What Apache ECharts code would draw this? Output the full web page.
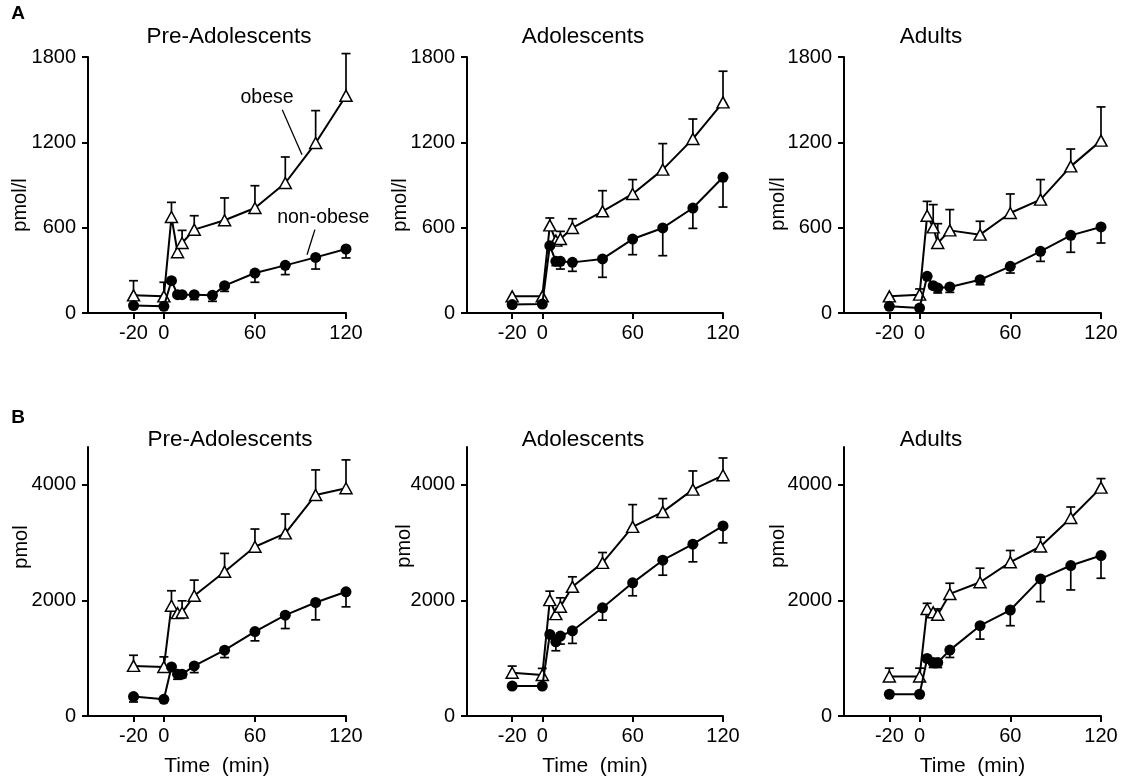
<!DOCTYPE html>
<html>
<head>
<meta charset="utf-8">
<script src="https://cdn.jsdelivr.net/npm/echarts@6/dist/echarts.min.js"></script>
<style>
html,body{margin:0;padding:0;background:#fff;}
#main{width:1121px;height:782px;}
</style>
</head>
<body>
<div id="main"></div>
<script>
// each point: [time (min), mean, error]
// panel A - plasma insulin (pmol/l)
var insPreObese   = [[-20,124,103],[0,117,99],[5,675,103],[9,427,0],[12,492,89],[20,586,98],[40,652,157],[60,738,157],[80,914,183],[100,1195,228],[120,1528,296]];
var insPreLean    = [[-20,52,20],[0,47,0],[5,227,0],[9,129,0],[12,129,15],[20,129,35],[32,124,42],[40,192,40],[60,281,65],[80,335,65],[100,391,82],[120,450,63]];
var insAdolObese  = [[-20,117,0],[0,117,0],[5,616,52],[9,509,0],[12,520,54],[20,598,65],[40,715,145],[60,837,101],[80,1008,183],[100,1224,140],[120,1481,219]];
var insAdolLean   = [[-20,59,0],[0,63,0],[5,473,0],[9,363,30],[12,363,54],[20,356,63],[40,380,129],[60,520,110],[80,598,195],[100,738,143],[120,954,209]];
var insAdultObese = [[-20,117,0],[0,129,40],[5,684,101],[9,602,160],[12,492,136],[20,581,146],[40,551,94],[60,703,134],[80,797,141],[100,1031,122],[120,1212,237]];
var insAdultLean  = [[-20,47,0],[0,35,0],[5,258,0],[9,192,20],[12,176,35],[20,183,38],[40,234,35],[60,328,47],[80,434,71],[100,546,119],[120,605,113]];

// panel B - cumulative secretion (pmol)
var secPreObese   = [[-20,866,184],[0,848,174],[5,1905,260],[9,1778,0],[12,1789,202],[20,2078,271],[40,2494,317],[60,2926,306],[80,3157,335],[100,3821,433],[120,3937,490]];
var secPreLean    = [[-20,335,93],[0,289,0],[5,848,0],[9,722,87],[12,722,60],[20,866,116],[40,1137,127],[60,1460,161],[80,1743,231],[100,1962,300],[120,2147,260]];
var secAdolObese  = [[-20,748,115],[0,708,115],[5,2003,155],[9,1761,0],[12,1888,155],[20,2233,173],[40,2647,179],[60,3269,385],[80,3528,230],[100,3913,323],[120,4161,299]];
var secAdolLean   = [[-20,518,0],[0,518,0],[5,1410,0],[9,1283,155],[12,1381,138],[20,1473,218],[40,1870,213],[60,2302,224],[80,2693,259],[100,2970,305],[120,3286,293]];
var secAdultObese = [[-20,682,145],[0,682,145],[5,1850,98],[9,1792,0],[12,1751,99],[20,2110,185],[40,2312,243],[60,2659,202],[80,2930,162],[100,3422,191],[120,3948,156]];
var secAdultLean  = [[-20,376,0],[0,376,0],[5,994,0],[9,925,87],[12,925,87],[20,1139,127],[40,1561,232],[60,1832,271],[80,2370,393],[100,2601,422],[120,2774,393]];

var groupTitles = ['Pre-Adolescents', 'Adolescents', 'Adults'];
var xTicks = [-20, 0, 60, 120];
var yTicksA = [0, 600, 1200, 1800];
var yTicksB = [0, 2000, 4000];

var obeseSets = [insPreObese, insAdolObese, insAdultObese, secPreObese, secAdolObese, secAdultObese];
var leanSets = [insPreLean, insAdolLean, insAdultLean, secPreLean, secAdolLean, secAdultLean];

var FONT = 'Liberation Sans, Arial, Helvetica, sans-serif';
var lefts = [88, 467, 844];
var widths = [258, 256, 257];
var tops = [57, 447];
var heights = [256, 269];

var dom = document.getElementById('main');
var myChart = echarts.init(dom);

function errBar(dir) {
    return function (params, api) {
        var t = api.value(0), v = api.value(1), e = api.value(2);
        if (!e) return null;
        var p0 = api.coord([t, v]);
        var p1 = api.coord([t, v + dir * e]);
        var st = {stroke: '#000', lineWidth: 1.7};
        return {
            type: 'group',
            children: [
                {type: 'line', shape: {x1: p0[0], y1: p0[1], x2: p1[0], y2: p1[1]}, style: st},
                {type: 'line', shape: {x1: p1[0] - 4.5, y1: p1[1], x2: p1[0] + 4.5, y2: p1[1]}, style: st}
            ]
        };
    };
}

function plain(v) { return String(v); }

var grids = [], xAxes = [], yAxes = [], series = [];
for (var i = 0; i < 6; i++) {
    var row = Math.floor(i / 3), col = i % 3;
    grids.push({left: lefts[col], width: widths[col], top: tops[row], height: heights[row]});
    xAxes.push({
        gridIndex: i, type: 'value', min: -50, max: 120,
        name: row == 1 ? 'Time  (min)' : '',
        nameLocation: 'middle', nameGap: 40,
        nameTextStyle: {color: '#000', fontSize: 21, fontFamily: FONT},
        axisLine: {onZero: false, lineStyle: {color: '#000', width: 2}},
        axisTick: {customValues: xTicks, length: 6, lineStyle: {width: 2}},
        axisLabel: {customValues: xTicks, formatter: plain, color: '#000', fontSize: 20, fontFamily: FONT, margin: 10},
        splitLine: {show: false}
    });
    yAxes.push({
        gridIndex: i, type: 'value', min: 0, max: row == 0 ? 1800 : 4650,
        axisLine: {show: true, onZero: false, lineStyle: {color: '#000', width: 2}},
        axisTick: {show: true, customValues: row == 0 ? yTicksA : yTicksB, length: 6, lineStyle: {width: 2}},
        axisLabel: {customValues: row == 0 ? yTicksA : yTicksB, formatter: plain, color: '#000', fontSize: 20, fontFamily: FONT, margin: 12},
        splitLine: {show: false}
    });
    series.push({
        type: 'custom', xAxisIndex: i, yAxisIndex: i, z: 1,
        renderItem: errBar(1), encode: {x: 0, y: 1}, data: obeseSets[i], silent: true
    });
    series.push({
        type: 'custom', xAxisIndex: i, yAxisIndex: i, z: 1,
        renderItem: errBar(-1), encode: {x: 0, y: 1}, data: leanSets[i], silent: true
    });
    series.push({
        name: 'obese', type: 'line', xAxisIndex: i, yAxisIndex: i, z: 3,
        data: obeseSets[i].map(function (d) { return [d[0], d[1]]; }),
        symbol: 'triangle', symbolSize: [12, 11], showAllSymbol: true,
        lineStyle: {color: '#000', width: 2},
        itemStyle: {color: '#fff', borderColor: '#000', borderWidth: 1.5},
        animation: false
    });
    series.push({
        name: 'non-obese', type: 'line', xAxisIndex: i, yAxisIndex: i, z: 4,
        data: leanSets[i].map(function (d) { return [d[0], d[1]]; }),
        symbol: 'circle', symbolSize: 11, showAllSymbol: true,
        lineStyle: {color: '#000', width: 2},
        itemStyle: {color: '#000'},
        animation: false
    });
}

option = {
    backgroundColor: '#fff',
    animation: false,
    grid: grids,
    xAxis: xAxes,
    yAxis: yAxes,
    series: series
};
myChart.setOption(option);

// titles, letters, axis names and the two labels in panel A
var titlePos = [[229, 37], [583, 37], [931, 37], [230, 440], [583, 440], [931, 440]];
var yNamePos = [[20, 205], [400, 205], [778, 204], [21, 547], [404, 546], [778, 546]];
var g = [];
for (var k = 0; k < 6; k++) {
    g.push({type: 'text', x: titlePos[k][0], y: titlePos[k][1],
        style: {text: groupTitles[k % 3], fill: '#000', font: '22.5px ' + FONT, textAlign: 'center', textVerticalAlign: 'middle'}});
    g.push({type: 'text', x: yNamePos[k][0], y: yNamePos[k][1], rotation: Math.PI / 2,
        style: {text: k < 3 ? 'pmol/l' : 'pmol', fill: '#000', font: '20px ' + FONT, textAlign: 'center', textVerticalAlign: 'middle'}});
}
g.push({type: 'text', x: 18, y: 14, style: {text: 'A', fill: '#000', font: 'bold 19px ' + FONT, textAlign: 'center', textVerticalAlign: 'middle'}});
g.push({type: 'text', x: 18, y: 418, style: {text: 'B', fill: '#000', font: 'bold 19px ' + FONT, textAlign: 'center', textVerticalAlign: 'middle'}});

var notes = [
    {text: 'obese', at: [68, 1514], from: [78, 1429], to: [91, 1113]},
    {text: 'non-obese', at: [105, 670], from: [99.5, 586], to: [94.3, 410]}
];
notes.forEach(function (n) {
    var p = myChart.convertToPixel({gridIndex: 0}, n.at);
    var a = myChart.convertToPixel({gridIndex: 0}, n.from);
    var b = myChart.convertToPixel({gridIndex: 0}, n.to);
    g.push({type: 'text', x: p[0], y: p[1], style: {text: n.text, fill: '#000', font: '19.5px ' + FONT, textAlign: 'center', textVerticalAlign: 'middle'}});
    g.push({type: 'line', shape: {x1: a[0], y1: a[1], x2: b[0], y2: b[1]}, style: {stroke: '#000', lineWidth: 1.3}});
});
myChart.setOption({graphic: g});
</script>
</body>
</html>
